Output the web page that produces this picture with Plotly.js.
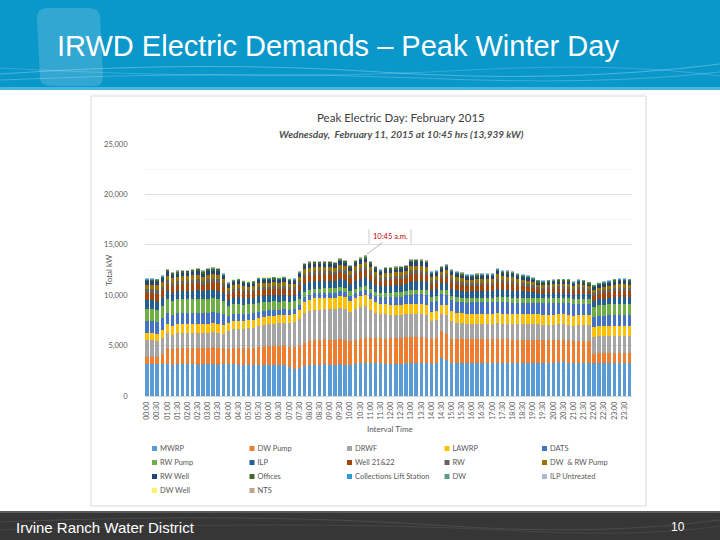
<!DOCTYPE html>
<html><head><meta charset="utf-8">
<script src="https://cdn.plot.ly/plotly-3.0.1.min.js"></script>
<style>
html,body{margin:0;padding:0;background:#fff;}
#chart{width:720px;height:540px;}
</style></head><body><div id="chart"></div>
<script>
const times = ["00:00","00:15","00:30","00:45","01:00","01:15","01:30","01:45","02:00","02:15","02:30","02:45","03:00","03:15","03:30","03:45",
"04:00","04:15","04:30","04:45","05:00","05:15","05:30","05:45","06:00","06:15","06:30","06:45","07:00","07:15","07:30","07:45",
"08:00","08:15","08:30","08:45","09:00","09:15","09:30","09:45","10:00","10:15","10:30","10:45","11:00","11:15","11:30","11:45",
"12:00","12:15","12:30","12:45","13:00","13:15","13:30","13:45","14:00","14:15","14:30","14:45","15:00","15:15","15:30","15:45",
"16:00","16:15","16:30","16:45","17:00","17:15","17:30","17:45","18:00","18:15","18:30","18:45","19:00","19:15","19:30","19:45",
"20:00","20:15","20:30","20:45","21:00","21:15","21:30","21:45","22:00","22:15","22:30","22:45","23:00","23:15","23:30","23:45"];

const mwrp = [3200,3200,3150,3200,3150,3100,3150,3150, 3150,3150,3100,3150,3150,3150,3100,3150,
3150,3150,3100,3100,3100,3050,3100,3100, 3100,3050,3100,3100,2900,2700,2750,3000,
3050,3100,3100,3150,3100,3100,3150,3100, 3050,3150,3250,3300,3300,3250,3250,3200,
3200,3200,3200,3250,3250,3250,3250,3250, 3200,3300,3800,3600,3300,3300,3300,3300,
3300,3300,3300,3300,3300,3300,3300,3300, 3300,3300,3300,3300,3300,3300,3300,3300,
3300,3350,3350,3300,3250,3300,3300,3300, 3300,3300,3300,3300,3300,3300,3300,3300];
const dwPump = [700,700,700,1000,1600,1550,1600,1650, 1650,1650,1700,1650,1650,1700,1650,1600,
1500,1600,1650,1650,1650,1700,1750,1800, 1850,1900,1900,1900,2000,2200,2200,2300,
2450,2500,2500,2500,2500,2500,2500,2500, 2400,2450,2450,2450,2450,2500,2500,2500,
2550,2550,2550,2600,2600,2600,2600,2550, 2500,2500,2600,2600,2400,2350,2350,2350,
2350,2350,2350,2350,2350,2350,2350,2350, 2300,2300,2300,2300,2300,2300,2250,2250,
2250,2250,2250,2250,2200,2200,2200,2200, 900,950,950,1000,1000,1000,1000,1000];
const drwf = [1650,1650,1600,1600,1500,1450,1500,1500, 1500,1500,1500,1450,1500,1500,1500,1450,
1800,1850,1900,1900,1950,2000,2050,2100, 2150,2200,2200,2250,2300,2400,2700,2900,
2900,2950,2950,2950,3000,3000,3100,3050, 2900,3000,3100,3150,2800,2500,2400,2400,
2300,2300,2250,2250,2250,2250,2250,2250, 1700,1700,1700,1800,1700,1600,1550,1500,
1500,1500,1500,1500,1500,1550,1500,1500, 1500,1500,1500,1500,1500,1500,1500,1500,
1500,1500,1500,1500,1500,1500,1500,1500, 1650,1700,1700,1700,1700,1700,1700,1700];
const lawrp = [750,750,700,750,850,850,850,850, 850,850,850,850,850,850,850,850,
800,800,800,800,800,800,800,800, 800,800,800,800,800,800,900,1100,
1150,1150,1150,1150,1150,1150,1150,1150, 1100,1100,1100,1100,1100,1050,1000,1000,
1000,1000,1000,1000,1000,1000,1000,1000, 900,900,950,1000,1000,1000,1000,1000,
1000,1000,1000,1000,1000,1000,1000,1000, 1000,1000,1000,1000,1000,1000,1000,1000,
1000,1000,1000,1000,1000,1000,1000,1000, 950,950,950,950,950,950,950,950];
const dats = [1150,1150,1150,1150,1100,1100,1100,1100, 1100,1100,1100,1100,1100,1100,1100,1050,
700,700,700,650,650,650,650,600, 600,600,550,550,550,550,500,500,
500,500,500,500,500,500,500,500, 500,500,500,500,550,600,650,700,
750,800,850,900,950,1000,1000,1000, 1050,1050,1050,1050,1100,1100,1100,1100,
1150,1150,1150,1150,1150,1150,1150,1150, 1150,1150,1150,1150,1150,1150,1150,1150,
1150,1150,1150,1150,1150,1150,1150,1150, 1050,1050,1050,1050,1050,1050,1050,1050];
const rwPump = [1200,1200,1200,1200,1400,1400,1400,1400, 1400,1400,1400,1400,1400,1400,1400,1350,
1000,1000,1000,950,950,900,900,900, 850,850,800,800,800,750,600,500,
450,450,450,450,450,450,450,450, 450,450,450,450,450,450,450,450,
450,450,450,450,450,450,450,450, 450,450,450,450,450,450,450,450,
450,450,450,450,450,500,500,500, 500,500,500,500,500,500,500,500,
500,500,500,500,500,500,500,500, 1000,1050,1100,1100,1100,1100,1100,1100];
const ilp = [830,830,860,840,810,770,770,770, 770,800,830,770,830,830,840,740,
620,660,680,650,600,620,680,660, 650,650,650,660,620,600,740,780,
770,740,740,720,720,690,750,740, 690,770,780,810,740,680,620,680,
680,680,690,680,830,830,810,800, 690,690,620,680,710,690,660,630,
620,630,650,650,650,770,720,710, 710,650,620,590,530,450,450,470,
480,480,480,500,450,500,480,420, 590,600,620,630,680,690,690,680];
const well2122 = [740,740,770,760,730,690,690,690, 690,710,740,690,740,740,760,660,
550,590,600,580,540,550,600,590, 580,580,580,590,550,540,660,700,
690,660,660,650,650,620,680,660, 620,690,700,720,660,600,550,600,
600,600,620,600,740,740,730,710, 620,620,550,600,630,620,590,570,
550,570,580,580,580,690,650,630, 630,580,550,520,470,400,400,420,
430,430,430,440,400,440,430,380, 520,540,550,570,600,620,620,600];
const rw = [360,360,370,360,350,330,330,330, 330,340,360,330,360,360,360,320,
270,290,290,280,260,270,290,290, 280,280,280,290,270,260,320,340,
330,320,320,310,310,300,320,320, 300,330,340,350,320,290,270,290,
290,290,300,290,360,360,350,340, 300,300,270,290,310,300,290,270,
270,270,280,280,280,330,310,310, 310,280,270,250,230,200,200,200,
210,210,210,210,200,210,210,180, 250,260,270,270,290,300,300,290];
const dwRwPump = [460,460,480,480,460,430,430,430, 430,460,460,430,460,460,480,410,
340,370,390,360,340,340,390,370, 360,360,360,370,340,340,410,440,
430,410,410,410,410,390,430,410, 390,430,440,459,410,390,340,390,
390,390,390,390,460,460,460,460, 390,390,340,390,390,390,370,360,
340,360,360,360,360,430,410,390, 390,360,340,340,290,250,250,260,
270,270,270,290,250,290,270,240, 340,340,340,360,390,390,390,390];
const rwWell = [360,360,370,360,350,330,330,330, 330,340,360,330,360,360,360,320,
270,290,290,280,260,270,290,290, 280,280,280,290,270,260,320,340,
330,320,320,310,310,300,320,320, 300,330,340,350,320,290,270,290,
290,290,300,290,360,360,350,340, 300,300,270,290,310,300,290,270,
270,270,280,280,280,330,310,310, 310,280,270,250,230,200,200,200,
210,210,210,210,200,210,210,180, 250,260,270,270,290,300,300,290];
const offices = [150,150,150,150,160,160,160,160, 160,160,160,160,160,160,160,150,
140,140,140,140,140,140,140,140, 140,140,140,140,140,150,150,150,
150,150,150,150,150,150,150,150, 150,150,150,150,150,150,150,150,
150,150,150,150,150,150,150,150, 150,150,150,150,150,150,150,150,
150,150,150,150,150,150,150,150, 150,150,150,150,150,140,140,140,
140,140,140,140,140,140,140,140, 150,150,150,150,150,150,150,150];
const collections = [40,40,40,40,40,40,40,40, 40,40,40,40,40,40,40,40,
30,30,30,30,30,30,30,30, 30,30,30,30,40,40,40,40,
40,40,40,40,40,40,40,40, 40,40,40,40,40,40,40,40,
40,40,40,40,40,40,40,40, 50,50,50,50,50,50,50,50,
50,50,50,50,50,50,50,50, 50,50,50,50,50,50,50,50,
50,50,50,50,50,50,50,50, 40,40,40,40,40,40,40,40];
const dw = [40,40,40,40,40,40,40,40, 40,40,40,40,40,40,40,40,
40,40,40,40,40,40,40,40, 40,40,40,40,40,40,40,40,
40,40,40,40,40,40,40,40, 40,40,40,40,40,40,40,40,
40,40,40,40,40,40,40,40, 40,40,40,40,40,40,40,40,
40,40,40,40,40,40,40,40, 40,40,40,40,40,40,40,40,
40,40,40,40,40,40,40,40, 40,40,40,40,40,40,40,40];
const ilpUntreated = [30,30,30,30,30,30,30,30, 30,30,30,30,30,30,30,30,
30,30,30,30,30,30,30,30, 30,30,30,30,30,30,30,30,
30,30,30,30,30,30,30,30, 30,30,30,30,30,30,30,30,
30,30,30,30,30,30,30,30, 30,30,30,30,30,30,30,30,
30,30,30,30,30,30,30,30, 30,30,30,30,30,30,30,30,
30,30,30,30,30,30,30,30, 30,30,30,30,30,30,30,30];
const dwWell = [20,20,20,20,20,20,20,20, 20,20,20,20,20,20,20,20,
20,20,20,20,20,20,20,20, 20,20,20,20,20,20,20,20,
20,20,20,20,20,20,20,20, 20,20,20,20,20,20,20,20,
20,20,20,20,20,20,20,20, 20,20,20,20,20,20,20,20,
20,20,20,20,20,20,20,20, 20,20,20,20,20,20,20,20,
20,20,20,20,20,20,20,20, 20,20,20,20,20,20,20,20];
const nts = [20,20,20,20,20,20,20,20, 20,20,20,20,20,20,20,20,
20,20,20,20,20,20,20,20, 20,20,20,20,20,20,20,20,
20,20,20,20,20,20,20,20, 20,20,20,20,20,20,20,20,
20,20,20,20,20,20,20,20, 20,20,20,20,20,20,20,20,
20,20,20,20,20,20,20,20, 20,20,20,20,20,20,20,20,
20,20,20,20,20,20,20,20, 20,20,20,20,20,20,20,20];

const seriesNames = ["MWRP","DW Pump","DRWF","LAWRP","DATS","RW Pump","ILP","Well 21&22","RW","DW  & RW Pump","RW Well","Offices","Collections Lift Station","DW","ILP Untreated","DW Well","NTS"];
const seriesValues = [mwrp,dwPump,drwf,lawrp,dats,rwPump,ilp,well2122,rw,dwRwPump,rwWell,offices,collections,dw,ilpUntreated,dwWell,nts];
const seriesColors = ["#5B9BD5","#ED7D31","#A5A5A5","#FFC000","#4472C4","#70AD47","#255E91","#9E480E","#636363","#997300","#264478","#43682B","#2E9BD6","#5B9C87","#A9B7CF","#FFF36B","#BFA58A"];

const yTicks = [0,5000,10000,15000,20000,25000];
const peakTime = "10:45", peakValue = 13939;

// layout geometry (pixels -> paper)
const GL=112, GW=520, GT=144, GH=366;
const px = x => (x-GL)/GW;
const py = y => (GT+GH-y)/GH;
function pth(cmds){ return cmds.map(c=>{ let s=c[0]; for(let k=1;k<c.length;k+=2){ s+=' '+px(c[k]).toFixed(5)+','+py(c[k+1]).toFixed(5);} return s;}).join(' '); }

const traces = seriesNames.map((n,i)=>({
  type:'bar', name:n, x:times, y:seriesValues[i],
  marker:{color:seriesColors[i], line:{width:0}}, hoverinfo:'skip'
}));

const shapes = [
  {type:'rect',xref:'paper',yref:'paper',x0:px(0),x1:px(720),y0:py(0),y1:py(87),fillcolor:'#0A97CA',line:{width:0},layer:'below'},
  {type:'rect',xref:'paper',yref:'paper',x0:px(0),x1:px(720),y0:py(87),y1:py(90),fillcolor:'#46B6E0',line:{width:0},layer:'below'},
  {type:'path',xref:'paper',yref:'paper',path:pth([['M',48,8],['Q',36,8,37,20],['L',40,78],['Q',41,86,52,86],['L',94,86],['Q',103,86,103,77],['L',100,16],['Q',99,8,88,8],['Z']]),fillcolor:'rgba(255,255,255,0.16)',line:{width:0},layer:'below'},
  {type:'path',xref:'paper',yref:'paper',path:pth([['M',0,74],['Q',200,60,380,72],['Q',560,84,720,64]]),line:{color:'rgba(255,255,255,0.28)',width:1}},
  {type:'path',xref:'paper',yref:'paper',path:pth([['M',0,80],['Q',220,70,420,78],['Q',600,86,720,72]]),line:{color:'rgba(255,255,255,0.22)',width:1}},
  {type:'path',xref:'paper',yref:'paper',path:pth([['M',0,68],['Q',260,82,470,70],['Q',620,62,720,76]]),line:{color:'rgba(255,255,255,0.18)',width:1}},
  {type:'rect',xref:'paper',yref:'paper',x0:px(0),x1:px(720),y0:py(512),y1:py(540),fillcolor:'#363636',line:{width:0},layer:'below'},
  {type:'rect',xref:'paper',yref:'paper',x0:px(0),x1:px(720),y0:py(511),y1:py(513),fillcolor:'#5a5a5a',line:{width:0},layer:'below'},
  {type:'path',xref:'paper',yref:'paper',path:pth([['M',0,522],['Q',250,512,450,526],['Q',600,536,720,520]]),line:{color:'rgba(255,255,255,0.10)',width:1}},
  {type:'path',xref:'paper',yref:'paper',path:pth([['M',0,530],['Q',300,520,500,530],['Q',640,538,720,526]]),line:{color:'rgba(255,255,255,0.08)',width:1}},
  {type:'rect',xref:'paper',yref:'paper',x0:px(91),x1:px(646),y0:py(96),y1:py(506),line:{color:'#d9d9d9',width:1},fillcolor:'rgba(0,0,0,0)',layer:'below'},
  {type:'line',xref:'paper',yref:'paper',x0:px(369),x1:px(369),y0:py(229),y1:py(244),line:{color:'#bfbfbf',width:0.8}},
  {type:'line',xref:'paper',yref:'paper',x0:px(411),x1:px(411),y0:py(229),y1:py(244),line:{color:'#bfbfbf',width:0.8}}
];

const txt = '#595959';
const annotations = [
  {xref:'paper',yref:'paper',x:px(55),y:py(46),xanchor:'left',yanchor:'middle',showarrow:false,text:'IRWD Electric Demands \u2013 Peak Winter Day',font:{family:'Liberation Sans, Arial, sans-serif',size:29,color:'#ffffff'}},
  {xref:'paper',yref:'paper',x:px(14),y:py(527),xanchor:'left',yanchor:'middle',showarrow:false,text:'Irvine Ranch Water District',font:{family:'Liberation Sans, Arial, sans-serif',size:15,color:'#ffffff'}},
  {xref:'paper',yref:'paper',x:px(678),y:py(527),xanchor:'center',yanchor:'middle',showarrow:false,text:'10',font:{family:'Liberation Sans, Arial, sans-serif',size:12,color:'#ffffff'}},
  {xref:'paper',yref:'paper',x:px(401),y:py(118),xanchor:'center',yanchor:'middle',showarrow:false,text:'Peak Electric Day: February 2015',font:{family:'Lato, sans-serif',size:11.5,color:'#404040'}},
  {xref:'paper',yref:'paper',x:px(401),y:py(134),xanchor:'center',yanchor:'middle',showarrow:false,text:'<b><i>Wednesday,  February 11, 2015 at 10:45 hrs (13,939 kW)</i></b>',font:{family:'Lato, sans-serif',size:10,color:'#505050'}},
  {xref:'paper',yref:'paper',x:px(109),y:py(270),xanchor:'center',yanchor:'middle',showarrow:false,textangle:-90,text:'Total kW',font:{family:'Lato, sans-serif',size:8,color:txt}},
  {xref:'paper',yref:'paper',x:px(390),y:py(429),xanchor:'center',yanchor:'middle',showarrow:false,text:'Interval Time',font:{family:'Lato, sans-serif',size:8,color:txt}},
  {x:peakTime,y:peakValue,xref:'x',yref:'y',text:'10:45 a.m.',showarrow:true,arrowhead:0,arrowwidth:0.8,arrowcolor:'#a6a6a6',ax:25,ay:-19,standoff:2,font:{family:'Lato, sans-serif',size:7.5,color:'#C00000'}}
];

const layout = {
  width:720,height:540,
  margin:{l:GL,r:720-GL-GW,t:GT,b:540-GT-GH,autoexpand:false},
  paper_bgcolor:'#ffffff',plot_bgcolor:'rgba(0,0,0,0)',
  barmode:'stack',bargap:0.33,
  font:{family:'Lato, sans-serif',color:txt},
  xaxis:{domain:[px(144.5),px(632)],type:'category',tickvals:times.filter((t,i)=>i%2===0),tickangle:-90,
    tickfont:{size:7,color:txt},showgrid:false,showline:true,linecolor:'#d9d9d9',linewidth:1,ticks:'',ticklabelstandoff:2},
  yaxis:{domain:[py(396),py(144)],range:[0,25000],tickvals:yTicks,tickformat:',',tickfont:{size:7.5,color:txt},
    gridcolor:'#d9d9d9',gridwidth:0.8,zeroline:false,ticks:'',ticklabelstandoff:16,
    minor:{dtick:2500,showgrid:true,gridcolor:'#f0f0f0',gridwidth:0.6}},
  showlegend:true,
  legend:{orientation:'h',x:px(120),xanchor:'left',y:py(434),yanchor:'top',entrywidth:52.5,entrywidthmode:'pixels',
    font:{family:'Lato, sans-serif',size:7.5,color:txt},traceorder:'normal',bgcolor:'rgba(0,0,0,0)',borderwidth:0},
  shapes:shapes, annotations:annotations
};

Plotly.newPlot('chart', traces, layout, {displayModeBar:false,staticPlot:true}).then(gd=>{
  const items = Array.from(gd.querySelectorAll('.legend .traces'));
  const parsed = items.map(el=>{ const m=(el.getAttribute('transform')||'').match(/translate\(\s*([-\d.e]+)[ ,]+([-\d.e]+)\s*\)/); return m?[parseFloat(m[1]),parseFloat(m[2])]:null; });
  const ys = Array.from(new Set(parsed.filter(Boolean).map(p=>p[1]))).sort((a,b)=>a-b);
  items.forEach((el,i)=>{ const p=parsed[i]; if(!p) return; const row=ys.indexOf(p[1]); el.setAttribute('transform','translate('+p[0]+','+(ys[0]+row*14)+')'); });
  gd.querySelectorAll('.legend .legendpoints path').forEach(p=>{ p.setAttribute('d','M17,2.5H12V-2.5H17Z'); });
});
</script></body></html>
